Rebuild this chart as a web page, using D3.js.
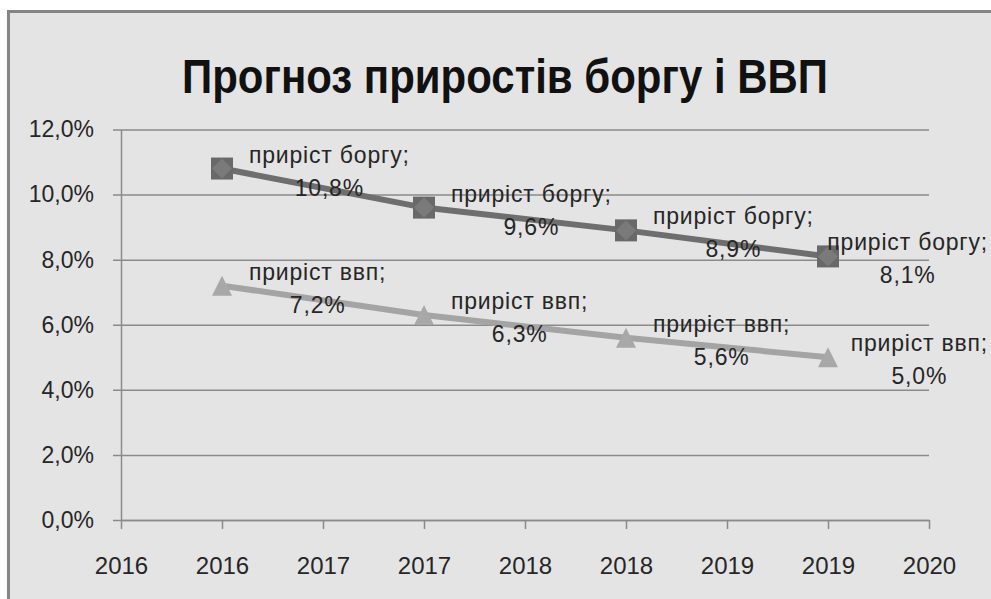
<!DOCTYPE html>
<html>
<head>
<meta charset="utf-8">
<script src="https://cdn.jsdelivr.net/npm/d3@7"></script>
<style>
  html, body { margin: 0; padding: 0; background: #ffffff; }
  svg { display: block; }
  text { font-family: "Liberation Sans", Arial, sans-serif; fill: #1e1e1e; }
</style>
</head>
<body>
<svg id="chart" width="991" height="599"></svg>
<script>
// Forecast of debt growth vs GDP growth (percent)
const years = [2016, 2017, 2018, 2019];
const debtGrowth = [10.8, 9.6, 8.9, 8.1];
const gdpGrowth = [7.2, 6.3, 5.6, 5.0];
const debtName = "приріст боргу;";
const gdpName = "приріст ввп;";
const titleText = "Прогноз приростів боргу і ВВП";

// Half-year ticks on the year axis, labelled with the rounded year
const xTickValues = [2015.5, 2016, 2016.5, 2017, 2017.5, 2018, 2018.5, 2019, 2019.5];
const xTickLabels = ["2016", "2016", "2017", "2017", "2018", "2018", "2019", "2019", "2020"];
const yTickValues = [0, 2, 4, 6, 8, 10, 12];

const svg = d3.select("#chart");

// chart frame
svg.append("rect")
  .attr("x", 8.5).attr("y", 11.5)
  .attr("width", 1000).attr("height", 620)
  .attr("fill", "#e4e4e4")
  .attr("stroke", "#858585")
  .attr("stroke-width", 3);

// title
svg.append("text")
  .attr("x", 505).attr("y", 93)
  .attr("text-anchor", "middle")
  .attr("font-size", 48)
  .attr("font-weight", "bold")
  .attr("textLength", 646)
  .attr("lengthAdjust", "spacingAndGlyphs")
  .style("fill", "#111")
  .text(titleText);

const plot = { left: 121, right: 929, top: 129.5, bottom: 520 };

const x = d3.scaleLinear().domain([2015.5, 2019.5]).range([plot.left, plot.right]);
const y = d3.scaleLinear().domain([0, 12]).range([plot.bottom, plot.top]);

const pct = v => d3.format(".1f")(v).replace(".", ",") + "%";

// horizontal gridlines + y axis
const yAxis = d3.axisLeft(y)
  .tickValues(yTickValues)
  .tickSize(-(plot.right - plot.left))
  .tickSizeOuter(0)
  .tickPadding(0)
  .tickFormat(pct);

const gy = svg.append("g")
  .attr("transform", `translate(${plot.left},0)`)
  .call(yAxis);
gy.select(".domain").attr("stroke", "#8a8a8a").attr("stroke-width", 1.5);
gy.selectAll(".tick line")
  .attr("x1", -8)
  .attr("stroke", "#8a8a8a").attr("stroke-width", 1.5);
gy.selectAll(".tick text")
  .attr("x", -27)
  .attr("font-size", 23)
  .attr("font-family", "Liberation Sans, Arial, sans-serif")
  .style("fill", "#262626");

// x axis
const xAxis = d3.axisBottom(x)
  .tickValues(xTickValues)
  .tickSize(9)
  .tickSizeOuter(0)
  .tickPadding(0)
  .tickFormat((d, i) => xTickLabels[i]);

const gx = svg.append("g")
  .attr("transform", `translate(0,${plot.bottom})`)
  .call(xAxis);
gx.select(".domain").attr("stroke", "#8a8a8a").attr("stroke-width", 1.5);
gx.selectAll(".tick line").attr("stroke", "#8a8a8a").attr("stroke-width", 1.5);
gx.selectAll(".tick text")
  .attr("y", 0)
  .attr("dy", 54)
  .attr("font-size", 24)
  .attr("font-family", "Liberation Sans, Arial, sans-serif")
  .style("fill", "#262626");

// series lines
const series = [
  { name: debtName, values: debtGrowth, color: "#6e6e6e", marker: "square" },
  { name: gdpName, values: gdpGrowth, color: "#a4a4a4", marker: "triangle" }
];

const line = d3.line().x(d => x(d.year)).y(d => y(d.value));

series.forEach(s => {
  const pts = years.map((yr, i) => ({ year: yr, value: s.values[i] }));
  svg.append("path")
    .datum(pts)
    .attr("fill", "none")
    .attr("stroke", s.color)
    .attr("stroke-width", 6)
    .attr("d", line);
  s.pts = pts;
});

// markers
series.forEach(s => {
  const g = svg.append("g");
  s.pts.forEach(p => {
    const cx = x(p.year), cy = y(p.value);
    if (s.marker === "square") {
      g.append("rect")
        .attr("x", cx - 11).attr("y", cy - 11)
        .attr("width", 22).attr("height", 22)
        .attr("fill", "#696969");
      g.append("path")
        .attr("d", `M${cx},${cy - 10}L${cx + 10},${cy}L${cx},${cy + 10}L${cx - 10},${cy}Z`)
        .attr("fill", "#7a7a7a");
    } else {
      g.append("path")
        .attr("d", `M${cx},${cy - 10}L${cx + 10},${cy + 10}L${cx - 10},${cy + 10}Z`)
        .attr("fill", "#a8a8a8");
    }
  });
});

// data labels: two lines, block placed right of the point, kept inside the frame
const labelFont = 23;
const labelRightLimit = 988;
series.forEach(s => {
  s.pts.forEach(p => {
    const cx = x(p.year), cy = y(p.value);
    const g = svg.append("g").style("letter-spacing", "0.8px");
    const t1 = g.append("text")
      .attr("text-anchor", "middle")
      .attr("dominant-baseline", "central")
      .attr("font-size", labelFont)
      .attr("y", cy - 14)
      .style("fill", "#262626")
      .text(s.name);
    const t2 = g.append("text")
      .attr("text-anchor", "middle")
      .attr("dominant-baseline", "central")
      .attr("font-size", labelFont)
      .attr("y", cy + 19)
      .style("fill", "#262626")
      .text(pct(p.value));
    const w = Math.max(t1.node().getComputedTextLength(), t2.node().getComputedTextLength());
    let left = cx + 27;
    if (left + w > labelRightLimit) left = labelRightLimit - w;
    t1.attr("x", left + w / 2);
    t2.attr("x", left + w / 2);
  });
});
</script>
</body>
</html>
